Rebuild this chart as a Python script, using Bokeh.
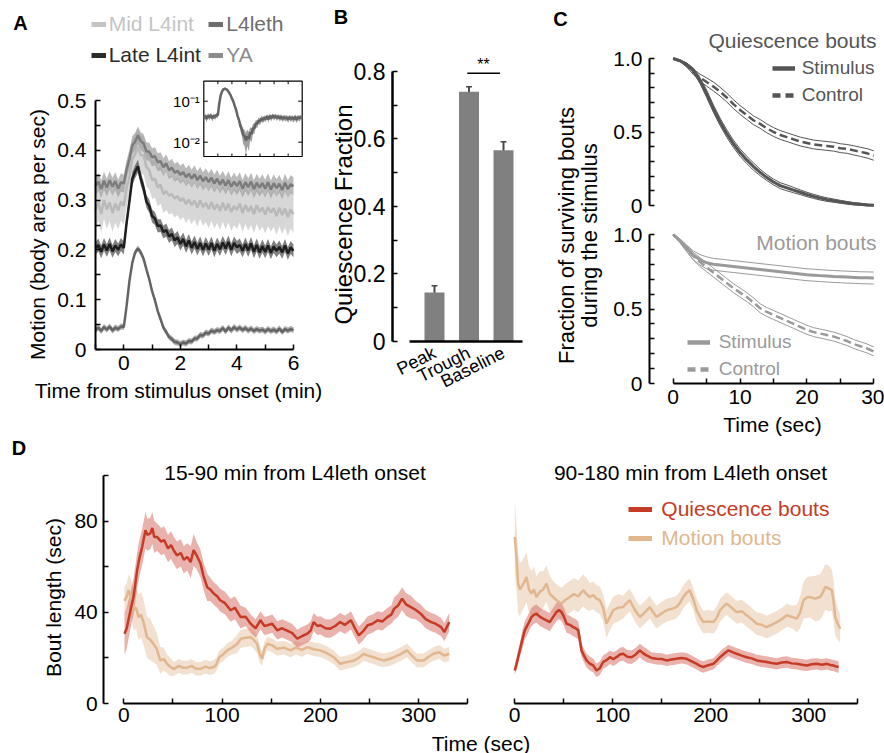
import numpy as np
from bokeh.plotting import figure
from bokeh.models import (Range1d, LinearAxis, LogScale, FixedTicker, Label, Legend,
                          LegendItem, ColumnDataSource, Whisker, TeeHead,
                          CustomJSTickFormatter)
from bokeh.embed import file_html
from bokeh.resources import INLINE
from bokeh.core.properties import value

FONT = "Liberation Sans"

# ======================= DATA =======================
# ---- Panel A: motion around stimulus ----
a_legend = ["Mid L4int", "L4leth", "Late L4int", "YA"]
a_time = np.round(np.linspace(-1.0, 6.0, 71), 2)
a_mid = [0.280, 0.296, 0.272, 0.300, 0.281, 0.295, 0.274, 0.293, 0.279, 0.297,
         0.288, 0.325, 0.348, 0.383, 0.392, 0.407, 0.390, 0.390, 0.366, 0.360,
         0.340, 0.343, 0.325, 0.331, 0.312, 0.318, 0.309, 0.312, 0.303, 0.308,
         0.298, 0.304, 0.292, 0.301, 0.290, 0.299, 0.285, 0.300, 0.286, 0.294,
         0.282, 0.296, 0.281, 0.292, 0.278, 0.295, 0.279, 0.293, 0.276, 0.288,
         0.280, 0.293, 0.274, 0.290, 0.277, 0.288, 0.272, 0.290, 0.276, 0.285,
         0.271, 0.286, 0.275, 0.284, 0.268, 0.285, 0.270, 0.283, 0.266, 0.281,
         0.272]
a_late = [0.203, 0.210, 0.196, 0.211, 0.199, 0.212, 0.197, 0.209, 0.200, 0.211,
          0.204, 0.255, 0.298, 0.343, 0.357, 0.368, 0.343, 0.324, 0.297, 0.288,
          0.268, 0.263, 0.248, 0.249, 0.236, 0.240, 0.227, 0.232, 0.219, 0.225,
          0.212, 0.222, 0.207, 0.219, 0.204, 0.216, 0.202, 0.214, 0.200, 0.213,
          0.201, 0.214, 0.198, 0.212, 0.201, 0.215, 0.203, 0.216, 0.200, 0.214,
          0.205, 0.210, 0.198, 0.212, 0.199, 0.213, 0.196, 0.210, 0.195, 0.208,
          0.196, 0.209, 0.194, 0.207, 0.198, 0.206, 0.195, 0.209, 0.193, 0.205,
          0.198]
a_ya = [0.328, 0.337, 0.322, 0.339, 0.325, 0.340, 0.327, 0.338, 0.323, 0.336,
        0.333, 0.362, 0.383, 0.410, 0.417, 0.430, 0.418, 0.414, 0.398, 0.397,
        0.386, 0.388, 0.376, 0.378, 0.366, 0.374, 0.360, 0.365, 0.355, 0.359,
        0.351, 0.356, 0.346, 0.353, 0.343, 0.352, 0.340, 0.349, 0.338, 0.346,
        0.336, 0.345, 0.333, 0.343, 0.331, 0.341, 0.329, 0.340, 0.327, 0.337,
        0.328, 0.338, 0.323, 0.336, 0.326, 0.337, 0.322, 0.335, 0.325, 0.334,
        0.323, 0.336, 0.321, 0.334, 0.324, 0.333, 0.320, 0.335, 0.322, 0.332,
        0.328]
a_leth = [0.039, 0.044, 0.037, 0.045, 0.040, 0.046, 0.038, 0.044, 0.041, 0.046,
          0.045, 0.088, 0.138, 0.174, 0.195, 0.203, 0.195, 0.182, 0.161, 0.141,
          0.117, 0.099, 0.077, 0.061, 0.044, 0.035, 0.025, 0.021, 0.015, 0.014,
          0.011, 0.014, 0.012, 0.017, 0.016, 0.022, 0.022, 0.029, 0.028, 0.034,
          0.032, 0.038, 0.035, 0.039, 0.037, 0.043, 0.036, 0.044, 0.038, 0.045,
          0.040, 0.044, 0.039, 0.043, 0.038, 0.042, 0.037, 0.041, 0.038, 0.040,
          0.036, 0.041, 0.037, 0.040, 0.036, 0.042, 0.035, 0.041, 0.038, 0.041,
          0.039]
a_mid_err = 0.038
a_late_err = 0.013
a_ya_err = 0.018
a_leth_err = 0.006
inset_tick_values = [0.1, 0.01]
inset_tick_labels = ["10\u207b\u00b9", "10\u207b\u00b2"]
inset_xticks = [0, 1, 2, 3, 4, 5]

# ---- Panel B ----
b_categories = ["Peak", "Trough", "Baseline"]
b_values = [0.145, 0.739, 0.566]
b_errors = [0.020, 0.015, 0.025]
b_sig_pair = ("Trough", "Baseline")
b_sig_text = "**"

# ---- Panel C: survival of bouts ----
c_time = list(range(0, 31))
c_q_stim = [1.00, 0.985, 0.96, 0.92, 0.85, 0.76, 0.66, 0.57, 0.49, 0.42,
            0.36, 0.31, 0.265, 0.225, 0.19, 0.16, 0.135, 0.12, 0.105, 0.09,
            0.075, 0.062, 0.05, 0.04, 0.033, 0.025, 0.018, 0.012, 0.008, 0.004,
            0.002]
c_q_stim_ci = [0, 0.005, 0.01, 0.015, 0.02, 0.025, 0.025, 0.025, 0.025, 0.025,
               0.025, 0.025, 0.025, 0.022, 0.02, 0.02, 0.02, 0.02, 0.018, 0.016,
               0.015, 0.014, 0.013, 0.012, 0.011, 0.01, 0.009, 0.008, 0.007, 0.006,
               0.005]
c_q_ctrl = [1.0, 0.985, 0.955, 0.91, 0.87, 0.84, 0.81, 0.775, 0.735, 0.69,
            0.65, 0.615, 0.58, 0.555, 0.525, 0.50, 0.48, 0.465, 0.45, 0.435,
            0.425, 0.415, 0.41, 0.405, 0.40, 0.39, 0.385, 0.375, 0.365, 0.355,
            0.34]
c_q_ctrl_ci = [0, 0.006, 0.012, 0.018, 0.024, 0.028, 0.03, 0.03, 0.03, 0.03,
               0.03, 0.03, 0.03, 0.03, 0.03, 0.03, 0.03, 0.03, 0.03, 0.03,
               0.03, 0.03, 0.03, 0.03, 0.03, 0.03, 0.03, 0.031, 0.031, 0.032,
               0.032]
c_m_stim = [1.0, 0.96, 0.91, 0.86, 0.83, 0.81, 0.80, 0.795, 0.79, 0.785,
            0.78, 0.775, 0.77, 0.765, 0.76, 0.755, 0.75, 0.745, 0.74, 0.735,
            0.73, 0.727, 0.724, 0.721, 0.718, 0.716, 0.714, 0.712, 0.71, 0.709,
            0.708]
c_m_stim_ci = [0, 0.01, 0.02, 0.03, 0.035, 0.04, 0.04, 0.04, 0.04, 0.04,
               0.04, 0.04, 0.04, 0.04, 0.04, 0.04, 0.04, 0.04, 0.04, 0.04,
               0.04, 0.04, 0.04, 0.04, 0.04, 0.04, 0.04, 0.04, 0.04, 0.04,
               0.04]
c_m_ctrl = [1.0, 0.955, 0.905, 0.855, 0.815, 0.78, 0.745, 0.71, 0.675, 0.64,
            0.61, 0.58, 0.545, 0.505, 0.48, 0.46, 0.44, 0.42, 0.40, 0.38,
            0.36, 0.345, 0.335, 0.325, 0.315, 0.30, 0.285, 0.265, 0.25, 0.235,
            0.215]
c_m_ctrl_ci = [0, 0.01, 0.02, 0.025, 0.03, 0.03, 0.03, 0.03, 0.03, 0.03,
               0.03, 0.03, 0.03, 0.03, 0.03, 0.03, 0.03, 0.03, 0.03, 0.03,
               0.03, 0.03, 0.03, 0.03, 0.03, 0.03, 0.03, 0.03, 0.03, 0.03,
               0.03]

# ---- Panel D: bout length ----
d1q_t = [0.7, 3, 6.8, 10, 13.6, 16, 18.7, 22, 24, 27,
         29, 31, 34, 38, 41, 45, 48, 51, 54, 58,
         61, 64.5, 68, 71, 74, 78, 81, 84.8, 88, 91.6,
         95, 98, 103, 108.6, 113, 118.8, 124, 129, 134, 139,
         143, 146, 151, 156, 161, 166, 171, 176.5, 181, 186.6,
         190, 193, 197, 200, 205, 210, 215, 220, 225, 231,
         235, 239, 244, 248, 253, 258, 263, 268, 272, 275,
         279, 283, 287, 292, 297, 302, 307, 312.6, 317, 322.7,
         326, 331]
d1q_mean = [30.6, 33, 40.9, 47, 58.5, 64, 68.7, 76, 74, 74.6,
            77, 73, 73, 71, 71.7, 68, 69.5, 67, 65, 66,
            63, 64.3, 62, 67.3, 65, 61.4, 56, 51, 50, 48.2,
            47, 45.3, 44, 40.9, 42, 37.9, 38, 35, 33, 36.5,
            34, 34.3, 35, 32.1, 33, 32, 31, 28.4, 29.5, 30.6,
            32, 35.7, 34, 34.3, 33, 32.8, 34, 35.7, 34.5, 36.5,
            33, 29.9, 32, 34.3, 35, 36.5, 36, 37.9, 39, 41.6,
            43, 46, 43.5, 42.3, 41, 39.4, 37, 35.7, 35, 33.5,
            31.3, 35.7]
d1q_err = [9, 9, 8, 8, 8, 8, 8, 8, 7, 7,
           7, 7, 6, 6, 6, 6, 6, 6, 6, 6,
           6, 6, 7, 7, 6, 6, 6, 6, 5, 5,
           5, 5, 5, 5, 5, 5, 4, 4, 4, 4,
           4, 4, 4, 4, 4, 4, 4, 4, 4, 4,
           4, 4, 4, 4, 4, 4, 4, 4, 4, 4,
           4, 4, 4, 4, 4, 4, 4, 4, 4, 5,
           5, 5, 5, 5, 4, 4, 4, 4, 4, 4,
           4, 4]
d1m_t = [0.7, 3, 5, 7.5, 10, 12.5, 15, 17.5, 20, 23.6,
         27, 30, 33.5, 37, 40.5, 44, 47.5, 51, 56, 60,
         64.5, 69, 73.5, 78, 83, 87, 91.6, 94, 97, 101,
         105, 110, 115, 119, 124, 129, 132, 135.6, 138, 140.7,
         143, 146, 151, 156, 163, 169.5, 175, 181, 186.6, 193,
         200, 207, 213.5, 220, 227, 234, 239, 244, 249, 254,
         259, 264, 270, 275, 281, 288, 293, 298, 305, 310,
         315, 321, 326, 331]
d1m_mean = [45, 47, 49.7, 46, 40.9, 42, 37.9, 39, 35.7, 29.1,
            28, 26.2, 24, 18.9, 19.5, 17.4, 16, 15.2, 16.5, 15.7,
            15.7, 16.5, 15.2, 15.2, 16.2, 15.5, 16, 17, 20.3, 21.5,
            23.3, 24.5, 26, 28.4, 28.8, 29.1, 28, 26.2, 22, 19.6,
            24, 26.2, 25.5, 24, 24.5, 23.3, 24.5, 23.5, 24.7, 23.8,
            23.3, 22, 20.3, 17.4, 18.2, 18.9, 20, 21.8, 20.9, 20.3,
            19.5, 18.9, 19.5, 20.3, 21.5, 23.3, 21, 18.9, 18.9, 20.5,
            21.8, 22.5, 21, 21.8]
d1m_err = [6, 6, 7, 8, 9, 9, 10, 10, 10, 9,
           9, 8, 7, 6, 5, 4, 4, 3, 3, 3,
           3, 3, 3, 3, 3, 3, 3, 3, 3, 3,
           3, 3, 4, 4, 4, 4, 4, 4, 4, 3,
           3, 3, 3, 3, 3, 3, 3, 3, 3, 3,
           3, 3, 3, 3, 3, 3, 3, 3, 3, 3,
           3, 3, 3, 3, 3, 3, 3, 3, 3, 3,
           3, 3, 3, 3]
d2q_t = [0.3, 3, 5.4, 8, 10.5, 14, 17.3, 20, 22.4, 26,
         29.2, 32.6, 36, 39.4, 42.8, 45.3, 47.9, 50.5, 53, 56.4,
         59.8, 62.4, 64.9, 66.6, 68.3, 70.9, 73.4, 76.8, 80.2, 83.6,
         87, 90.4, 93.8, 97.2, 100.6, 104, 107.4, 110.8, 115, 119.3,
         123.6, 127.8, 131.2, 134.6, 139.7, 144.8, 150, 155, 160, 165,
         170.3, 175.5, 180.6, 185.7, 189.1, 192.5, 197.6, 202.7, 206.1, 209.5,
         213.7, 218, 222.3, 226.5, 231.6, 236.7, 241.8, 247, 252, 257,
         262, 267.4, 272.5, 277.6, 282.7, 287.8, 293, 298, 303, 308.2,
         313.3, 318.4, 322, 325, 328, 330.4]
d2q_mean = [14.5, 19, 23.3, 28, 32.1, 35, 37.9, 39, 39.4, 38,
            37.2, 36.5, 35.7, 38, 40.1, 41, 40.1, 38, 35, 34.5,
            33.5, 33, 32.1, 28, 23.3, 21, 18.9, 17.5, 16.7, 14.5,
            15.5, 18.2, 19, 20.3, 19.5, 20.3, 21.5, 21.8, 20.5, 20.3,
            21.5, 23.3, 22, 21.1, 20, 19.6, 19.5, 18.9, 19.3, 19.6,
            20, 19.6, 18.5, 17.4, 16.5, 16, 16.8, 17.4, 18.8, 20.3,
            21.8, 23.3, 22.5, 21.8, 21, 20.3, 19.8, 18.9, 18.5, 18.2,
            17.8, 17.4, 18, 18.2, 17.6, 17.4, 17, 16.7, 17.2, 17.4,
            17, 17.4, 16.9, 16.7, 16.2, 16]
d2q_err = [2, 3, 3, 4, 4, 4, 4, 4, 4, 4,
           4, 4, 4, 4, 4, 4, 4, 4, 4, 4,
           4, 4, 4, 4, 3, 3, 3, 3, 3, 3,
           3, 3, 3, 3, 3, 3, 3, 3, 3, 3,
           3, 3, 3, 3, 2.5, 2.5, 2.5, 2.5, 2.5, 2.5,
           2.5, 2.5, 2.5, 2.5, 2.5, 2.5, 2.5, 2.5, 2.5, 2.5,
           2.5, 2.5, 2.5, 2.5, 2.5, 2.5, 2.5, 2.5, 2.5, 2.5,
           2.5, 2.5, 2.5, 2.5, 2.5, 2.5, 2.5, 2.5, 2.5, 2.5,
           2.5, 2.5, 2.5, 2.5, 2.5, 2.5]
d2m_t = [0.3, 2, 3.7, 5.4, 7.1, 9.6, 12.2, 14.8, 17.3, 19.8,
         22.4, 25.8, 29.2, 32.6, 36, 39.4, 43.6, 47.9, 52.1, 56.4,
         60.6, 65, 70, 73.4, 76.8, 80.2, 83.6, 87, 90.4, 93.8,
         97.2, 100.6, 105.7, 110.8, 114.2, 117.6, 122.7, 127.8, 132.9, 138,
         141.4, 144.8, 149.9, 155, 160, 165, 168.5, 172, 175.3, 178.6,
         182.1, 185.7, 189.1, 192.5, 197.6, 202.7, 206.1, 209.5, 212.9, 216.3,
         221.4, 226.5, 231.6, 236.7, 241.8, 247, 252, 257, 262, 267.4,
         272.5, 277.6, 282.7, 287.8, 291.2, 294.6, 298, 301.4, 306.5, 311.6,
         314.1, 316.7, 320.1, 323.5, 325.2, 326.9, 329.5, 332]
d2m_mean = [73.1, 64.3, 52.6, 50, 51.1, 53, 55.5, 50, 48.2, 50,
            46.7, 49, 50, 52.6, 48, 46.7, 45, 43.8, 45.5, 46.7,
            48, 47, 49.7, 48, 46.7, 47.5, 46, 45.3, 42, 35,
            38, 40.9, 42, 42.3, 44, 45.3, 41, 37.9, 40, 42.3,
            40, 37.9, 39.5, 40.9, 41.5, 42.3, 44, 46.7, 48.5, 49.7,
            46, 40.9, 38, 35.7, 36, 35.7, 37.5, 40.9, 42.5, 43.8,
            42, 40.1, 40.5, 38.7, 37, 35, 34.5, 33.5, 34.5, 35.7,
            37, 38.7, 38, 37.2, 40, 45.3, 46.5, 46.7, 46, 46.7,
            48.5, 51.1, 50.5, 49.7, 45, 37.9, 35, 32.8]
d2m_err = [16, 14, 13, 12, 11, 11, 11, 10, 10, 10,
           9, 9, 8, 8, 8, 7, 7, 7, 7, 7,
           7, 7, 7, 7, 6, 6, 6, 6, 6, 6,
           6, 6, 6, 5, 5, 5, 5, 5, 5, 5,
           5, 5, 5, 5, 5, 5, 5, 5, 5, 5,
           5, 5, 5, 5, 5, 5, 5, 5, 5, 5,
           5, 5, 5, 5, 5, 5, 5, 5, 5, 5,
           5, 5, 5, 6, 7, 8, 9, 9, 10, 10,
           10, 10, 10, 9, 9, 8, 7, 6]
d_titles = ["15-90 min from L4leth onset", "90-180 min from L4leth onset"]
d_legend = ["Quiescence bouts", "Motion bouts"]

# ======================= LAYOUT HELPERS =======================
W, H = 884, 753


def xr(v0, p0, s):
    """x range so that data v0 sits at page pixel p0 with s pixels per unit"""
    return Range1d(v0 - p0 / s, v0 + (W - p0) / s)


def yr(v0, p0, s):
    """y range so that data v0 sits at page pixel row p0 with s pixels per unit"""
    return Range1d(v0 - (H - p0) / s, v0 + p0 / s)


p = figure(width=W, height=H, x_range=Range1d(0, W), y_range=Range1d(H, 0),
           x_axis_type=None, y_axis_type=None, output_backend="svg",
           toolbar_location=None, min_border=0, min_border_left=0,
           min_border_right=0, min_border_top=0, min_border_bottom=0)
p.outline_line_color = None
p.background_fill_color = "white"
p.border_fill_color = "white"

p.extra_x_ranges = {
    "ax": xr(0, 123.3, 28.28),
    "ix": xr(-1, 203.3, 14.057),
    "bx": xr(1, 434, 34.5),
    "cx": xr(0, 672.7, 6.687),
    "d1x": xr(0, 123.3, 0.9833),
    "d2x": xr(0, 514, 0.981),
}
DEC = 41.0  # inset pixels per decade, 10^-1 at row 100.7
p.extra_y_ranges = {
    "ay": yr(0, 349, 498),
    "iy": Range1d(10 ** (-1 - (H - 100.7) / DEC), 10 ** (-1 + 100.7 / DEC)),
    "by": yr(0, 341, 337.8),
    "c1y": yr(0, 205, 147),
    "c2y": yr(0, 383, 149),
    "dy": yr(0, 703, 2.28),
}
p.extra_y_scales = {"iy": LogScale()}


def add_axis(side, xname, yname, loc, ticks, minor, bounds, size="21px", standoff=6,
             fmt=None, overrides=None, orient=None, tick_len=5, line_w=2.0,
             show_ticks=True):
    ax = LinearAxis(x_range_name=xname, y_range_name=yname, fixed_location=loc,
                    ticker=FixedTicker(ticks=ticks, minor_ticks=minor), bounds=bounds)
    ax.axis_line_width = line_w
    ax.axis_line_color = "black"
    ax.major_tick_in = tick_len
    ax.major_tick_out = 0
    ax.minor_tick_in = tick_len
    ax.minor_tick_out = 0
    ax.major_tick_line_width = 1.5
    ax.minor_tick_line_width = 1.5
    ax.major_tick_line_color = "black" if show_ticks else None
    ax.minor_tick_line_color = "black" if show_ticks else None
    ax.major_label_text_font = FONT
    ax.major_label_text_font_size = size
    ax.major_label_text_color = "black"
    ax.major_label_standoff = standoff
    if fmt is not None:
        ax.formatter = fmt
    if overrides is not None:
        ax.major_label_overrides = overrides
    if orient is not None:
        ax.major_label_orientation = orient
    p.add_layout(ax, side)
    return ax


def txt(px, py, text, size="21px", color="black", align="center", angle=0.0,
        bold=False):
    p.add_layout(Label(x=px, y=py, text=text, text_font=FONT, text_font_size=size,
                       text_color=color, text_align=align, text_baseline="middle",
                       angle=angle, text_font_style="bold" if bold else "normal"))


def swatch(color, width, dash="solid"):
    return p.line(x=np.array([np.nan]), y=np.array([np.nan]), line_color=color,
                  line_width=width, line_dash=dash)


def legend(gx, gy_first, items, color, size, gw, gh, standoff, spacing=0):
    n = len(items)
    bottom_py = gy_first - gh / 2 + n * gh + (n - 1) * spacing
    leg = Legend(items=[LegendItem(label=l, renderers=[r]) for l, r in items],
                 location=(gx, H - bottom_py), orientation="vertical",
                 padding=0, margin=0, spacing=spacing, glyph_width=gw,
                 glyph_height=gh, label_height=gh, label_standoff=standoff,
                 label_text_font=FONT, label_text_font_size=size,
                 label_text_color=color, border_line_color=None,
                 background_fill_alpha=0)
    p.add_layout(leg)


# ======================= PANEL A =======================
A = dict(x_range_name="ax", y_range_name="ay")
I = dict(x_range_name="ix", y_range_name="iy")
a_specs = [
    ("Mid L4int", a_mid, a_mid_err, "#b9b9b9", "#d0d0d0", 0.85, "#c4c4c4"),
    ("Late L4int", a_late, a_late_err, "#1e1e1e", "#4a4a4a", 0.7, "#2b2b2b"),
    ("YA", a_ya, a_ya_err, "#7c7c7c", "#9c9c9c", 0.7, "#8c8c8c"),
    ("L4leth", a_leth, a_leth_err, "#646464", "#888888", 0.7, "#6e6e6e"),
]
a_text_col = {}
for name, vals, err, lc, bc, ba, tc in a_specs:
    v = np.array(vals)
    p.varea(x=a_time, y1=v - err, y2=v + err, fill_color=bc, fill_alpha=ba, **A)
    p.line(a_time, v, line_color=lc, line_width=2.5, **A)
    a_text_col[name] = tc

# inset: L4leth trace on a log scale
inset_xlim = [-1.0, 6.0]
inset_ylim = [10 ** -2.349, 10 ** -0.512]
p.quad(left=[inset_xlim[0]], right=[inset_xlim[1]], bottom=[inset_ylim[0]],
       top=[inset_ylim[1]], fill_color="white", line_color="black", line_width=1.2,
       **I)
lv = np.array(a_leth)
p.varea(x=a_time, y1=lv - a_leth_err, y2=lv + a_leth_err, fill_color="#8a8a8a",
        fill_alpha=0.8, **I)
p.line(a_time, lv, line_color="#646464", line_width=2.5, **I)
tk = 10 ** (3 / DEC)
nx = len(inset_xticks)
p.segment(x0=inset_xticks, x1=inset_xticks, y0=[inset_ylim[0]] * nx,
          y1=[inset_ylim[0] * tk] * nx, line_color="black", line_width=1, **I)
p.segment(x0=inset_xticks, x1=inset_xticks, y0=[inset_ylim[1]] * nx,
          y1=[inset_ylim[1] / tk] * nx, line_color="black", line_width=1, **I)
dx = 4 / 14.057
ny = len(inset_tick_values)
p.segment(x0=[inset_xlim[0]] * ny, x1=[inset_xlim[0] + dx] * ny, y0=inset_tick_values,
          y1=inset_tick_values, line_color="black", line_width=1, **I)
p.segment(x0=[inset_xlim[1]] * ny, x1=[inset_xlim[1] - dx] * ny, y0=inset_tick_values,
          y1=inset_tick_values, line_color="black", line_width=1, **I)
p.text(x=[inset_xlim[0]] * ny, y=inset_tick_values, text=inset_tick_labels,
       x_offset=-4, text_align="right", text_baseline="middle",
       text_font=value(FONT), text_font_size="15px", text_color="black", **I)

add_axis("left", "ax", "ay", -1, [0, 0.1, 0.2, 0.3, 0.4, 0.5],
         [0.05, 0.15, 0.25, 0.35, 0.45], (0, 0.5), standoff=9)
add_axis("below", "ax", "ay", 0, [0, 2, 4, 6], [-1, 1, 3, 5], (-1, 6), standoff=6)

legend(90.7, 24, [(a_legend[0], swatch(a_text_col[a_legend[0]], 5))],
       a_text_col[a_legend[0]], "21px", 15, 24, 3)
legend(208.3, 24, [(a_legend[1], swatch(a_text_col[a_legend[1]], 5))],
       a_text_col[a_legend[1]], "21px", 15, 24, 3)
legend(90.7, 55, [(a_legend[2], swatch(a_text_col[a_legend[2]], 5))],
       a_text_col[a_legend[2]], "21px", 15, 24, 3)
legend(208.3, 55, [(a_legend[3], swatch(a_text_col[a_legend[3]], 5))],
       a_text_col[a_legend[3]], "21px", 15, 24, 3)

txt(20, 22.5, "A", size="20px", bold=True)
txt(36.7, 234, "Motion (body area per sec)", angle=np.pi / 2)
txt(178, 390, "Time from stimulus onset (min)")

# ======================= PANEL B =======================
B = dict(x_range_name="bx", y_range_name="by")
b_pos = list(range(1, len(b_categories) + 1))
bv = np.array(b_values)
be = np.array(b_errors)
bsrc = ColumnDataSource(dict(x=b_pos, top=b_values, upper=list(bv + be),
                             lower=list(bv - be)))
p.vbar(x="x", top="top", width=0.58, source=bsrc, fill_color="#808080",
       line_color=None, **B)
p.add_layout(Whisker(source=bsrc, base="x", upper="upper", lower="lower",
                     line_color="#4a4a4a", line_width=2,
                     upper_head=TeeHead(size=6, line_color="#4a4a4a", line_width=1.5),
                     lower_head=TeeHead(size=6, line_color="#4a4a4a", line_width=1.5),
                     **B))
i0 = b_categories.index(b_sig_pair[0])
i1 = b_categories.index(b_sig_pair[1])
sig_y = float(max(bv[i0] + be[i0], bv[i1] + be[i1])) + 0.04
p.line(x=[b_pos[i0] - 0.05, b_pos[i1] - 0.1], y=[sig_y, sig_y], line_color="black",
       line_width=1.5, **B)
p.add_layout(Label(x=(b_pos[i0] + b_pos[i1]) / 2 - 0.08, y=sig_y + 0.027,
                   text=b_sig_text, text_font=FONT, text_font_size="16px",
                   text_align="center", text_baseline="middle", text_color="black",
                   **B))
add_axis("left", "bx", "by", 1 + (392 - 434) / 34.5, [0, 0.2, 0.4, 0.6, 0.8],
         [0.1, 0.3, 0.5, 0.7], (0, 0.8), size="23px", standoff=7, line_w=2.5)
add_axis("below", "bx", "by", 0, b_pos, [], (0.28, 3.55), size="18px", standoff=10,
         overrides={q: c for q, c in zip(b_pos, b_categories)}, orient=0.47,
         line_w=2.5, show_ticks=False)
txt(340.5, 16, "B", size="20px", bold=True)
txt(342.5, 214, "Quiescence Fraction", size="24px", angle=np.pi / 2)

# ======================= PANEL C =======================
c_fmt = CustomJSTickFormatter(code="return tick == 0 ? '0' : tick.toFixed(1);")
Q_COL = "#555555"
M_COL = "#9a9a9a"
C_YLOC = (649 - 672.7) / 6.687


def surv(yname, mean, ci, color, dash):
    m = np.array(mean)
    c = np.array(ci)
    kw = dict(x_range_name="cx", y_range_name=yname)
    p.line(c_time, m + c, line_color=color, line_width=1, **kw)
    p.line(c_time, m - c, line_color=color, line_width=1, **kw)
    p.line(c_time, m, line_color=color, line_width=3 if dash == "solid" else 2.5,
           line_dash=dash, **kw)


surv("c1y", c_q_ctrl, c_q_ctrl_ci, Q_COL, "8 4")
surv("c1y", c_q_stim, c_q_stim_ci, Q_COL, "solid")
surv("c2y", c_m_ctrl, c_m_ctrl_ci, M_COL, "8 4")
surv("c2y", c_m_stim, c_m_stim_ci, M_COL, "solid")
c_minor = [0.1, 0.2, 0.3, 0.4, 0.6, 0.7, 0.8, 0.9]
add_axis("left", "cx", "c1y", C_YLOC, [0, 0.5, 1.0], c_minor, (0, 1), fmt=c_fmt,
         standoff=7)
add_axis("left", "cx", "c2y", C_YLOC, [0, 0.5, 1.0], c_minor, (0, 1), fmt=c_fmt,
         standoff=7)
add_axis("below", "cx", "c2y", 0, [0, 10, 20, 30], [5, 15, 25], (0, 30), standoff=6)
legend(771.7, 68.3, [("Stimulus", swatch(Q_COL, 4.5)),
                     ("Control", swatch(Q_COL, 4.5, "8 5"))], Q_COL, "19px",
       23, 22, 7, spacing=5)
legend(686.7, 341.7, [("Stimulus", swatch(M_COL, 4.5)),
                      ("Control", swatch(M_COL, 4.5, "8 5"))], M_COL, "19px",
       23, 22, 9, spacing=5)
txt(876, 40, "Quiescence bouts", color=Q_COL, align="right")
txt(876, 241.7, "Motion bouts", color=M_COL, align="right")
txt(772, 424, "Time (sec)")
txt(560, 18.5, "C", size="20px", bold=True)
txt(565.5, 235, "Fraction of surviving bouts", size="22px", angle=np.pi / 2)
txt(589, 235, "during the stimulus", size="22px", angle=np.pi / 2)

# ======================= PANEL D =======================
RED = "#c43b26"
RED_BAND = "#d9736a"
TAN = "#e0b78f"
TAN_BAND = "#eed6c0"


def bouts(xname, qt, qm, qe, mt, mm, me):
    kw = dict(x_range_name=xname, y_range_name="dy")
    qm_, qe_ = np.array(qm), np.array(qe)
    mm_, me_ = np.array(mm), np.array(me)
    p.varea(x=mt, y1=mm_ - me_, y2=mm_ + me_, fill_color=TAN_BAND, fill_alpha=0.75,
            **kw)
    p.varea(x=qt, y1=qm_ - qe_, y2=qm_ + qe_, fill_color=RED_BAND, fill_alpha=0.55,
            **kw)
    p.line(mt, mm_, line_color=TAN, line_width=2.5, **kw)
    p.line(qt, qm_, line_color=RED, line_width=2.5, **kw)


bouts("d1x", d1q_t, d1q_mean, d1q_err, d1m_t, d1m_mean, d1m_err)
bouts("d2x", d2q_t, d2q_mean, d2q_err, d2m_t, d2m_mean, d2m_err)
add_axis("left", "d1x", "dy", (103.3 - 123.3) / 0.9833, [0, 40, 80], [20, 60, 100],
         (0, 100), standoff=6)
add_axis("below", "d1x", "dy", 0, [0, 100, 200, 300], [50, 150, 250, 350], (0, 350),
         standoff=4)
add_axis("below", "d2x", "dy", 0, [0, 100, 200, 300], [50, 150, 250, 350], (0, 350),
         standoff=4)
legend(628.3, 509, [(d_legend[0], swatch(RED, 5))], RED, "21px", 24, 24, 9)
legend(628.3, 538.3, [(d_legend[1], swatch(TAN, 5))], TAN, "21px", 24, 24, 9)
txt(18.5, 447, "D", size="20px", bold=True)
txt(294.5, 471.7, d_titles[0])
txt(690, 471.7, d_titles[1])
txt(53, 597, "Bout length (sec)", angle=np.pi / 2)
txt(480.5, 742.5, "Time (sec)")

open("out.html", "w").write(file_html(p, INLINE, "figure"))
